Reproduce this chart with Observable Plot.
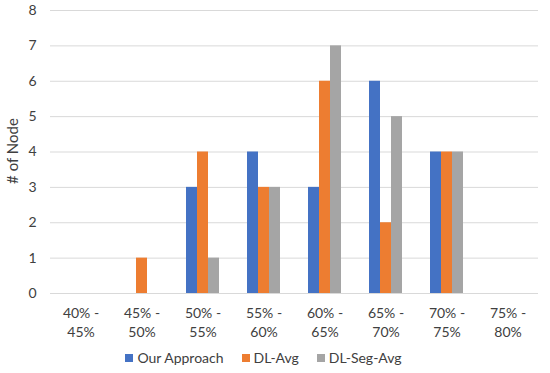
<!DOCTYPE html>
<html>
<head>
<meta charset="utf-8">
<script src="https://cdn.jsdelivr.net/npm/d3@7"></script>
<script src="https://cdn.jsdelivr.net/npm/@observablehq/plot@0.6"></script>
<style>
  html, body { margin: 0; padding: 0; background: #fff; }
  #chart { position: relative; width: 550px; height: 373px; font-family: Lato, "Open Sans", sans-serif; }
  #legend { position: absolute; left: 0; top: 349px; width: 527px; display: flex; justify-content: center; gap: 18px; font-size: 14px; color: #404040; }
  .item { display: flex; align-items: center; gap: 4px; }
  .sw { width: 8px; height: 8px; display: inline-block; }
  #ylabel { position: absolute; left: 12px; top: 151px; transform: translate(-50%, -50%) rotate(-90deg); white-space: nowrap; font-size: 15px; color: #404040; }
</style>
</head>
<body>
<div id="chart"></div>
<script>
const categories = ["40% - 45%", "45% - 50%", "50% - 55%", "55% - 60%", "60% - 65%", "65% - 70%", "70% - 75%", "75% - 80%"];
const seriesNames = ["Our Approach", "DL-Avg", "DL-Seg-Avg"];
const ourApproach = [0, 0, 3, 4, 3, 6, 4, 0];
const dlAvg = [0, 1, 4, 3, 6, 2, 4, 0];
const dlSegAvg = [0, 0, 1, 3, 7, 5, 4, 0];
const colors = ["#4472C4", "#ED7D31", "#A5A5A5"];
const yTicks = [0, 1, 2, 3, 4, 5, 6, 7, 8];
const yLabel = "# of Node";

const seriesValues = [ourApproach, dlAvg, dlSegAvg];
const data = [];
categories.forEach((c, i) => {
  seriesNames.forEach((s, j) => data.push({category: c, series: s, value: seriesValues[j][i]}));
});

const plot = Plot.plot({
  width: 550,
  height: 340,
  marginLeft: 46,
  marginRight: 9,
  marginTop: 10,
  marginBottom: 47,
  style: {fontFamily: "Lato, 'Open Sans', sans-serif", fontSize: "14px", color: "#404040"},
  fx: {domain: categories, padding: 0, label: null},
  x: {domain: seriesNames, paddingInner: 0, paddingOuter: 1.08, axis: null},
  y: {domain: [0, 8], ticks: yTicks, label: null},
  color: {domain: seriesNames, range: colors},
  marks: [
    Plot.gridY(yTicks, {stroke: "#d9d9d9", strokeOpacity: 1, strokeWidth: 1}),
    Plot.axisFx({anchor: "bottom", tickSize: 0, tickPadding: 12, fontSize: 14, lineHeight: 1.3, tickFormat: d => d.replace(" - ", " -\n"), label: null}),
    Plot.axisY(yTicks, {tickSize: 0, tickPadding: 14, fontSize: 14, label: null}),
    Plot.barY(data, {fx: "category", x: "series", y: "value", fill: "series"})
  ]
});

const chart = document.getElementById("chart");
chart.appendChild(plot);
const yl = document.createElement("div");
yl.id = "ylabel";
yl.textContent = yLabel;
chart.appendChild(yl);
const legend = document.createElement("div");
legend.id = "legend";
seriesNames.forEach((s, j) => {
  const it = document.createElement("div");
  it.className = "item";
  const sw = document.createElement("span");
  sw.className = "sw";
  sw.style.background = colors[j];
  const t = document.createElement("span");
  t.textContent = s;
  it.appendChild(sw);
  it.appendChild(t);
  legend.appendChild(it);
});
chart.appendChild(legend);
</script>
</body>
</html>
